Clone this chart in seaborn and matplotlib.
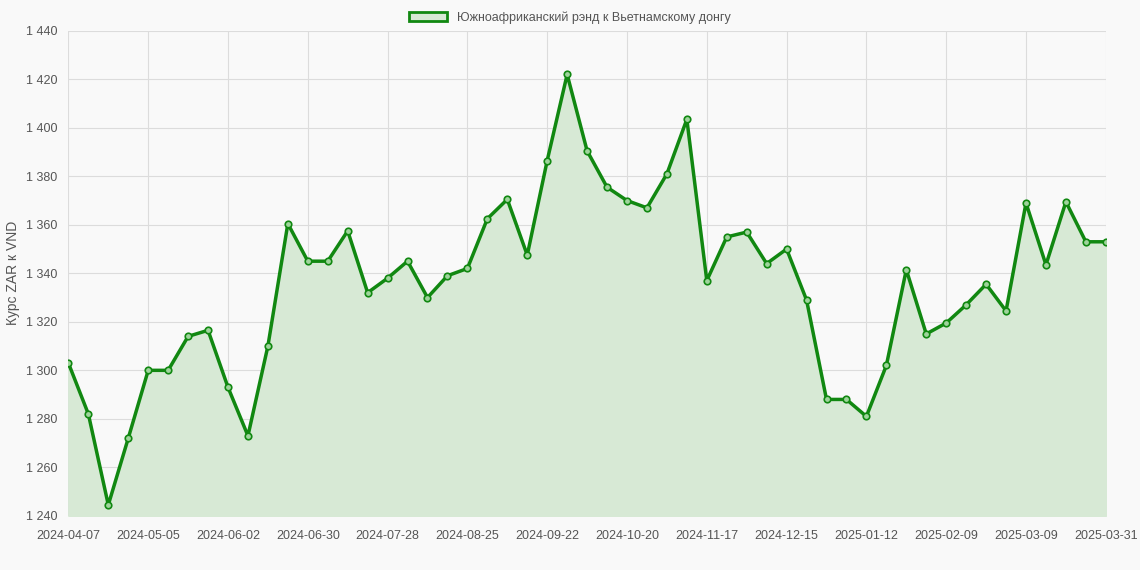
import pandas as pd
import numpy as np
import matplotlib.pyplot as plt
import seaborn as sns
from matplotlib.patches import Patch

# Weekly dates (category axis), last point is 2025-03-31
dates = [d.strftime("%Y-%m-%d") for d in pd.date_range("2024-04-07", periods=52, freq="7D")] + ["2025-03-31"]
rates = [1303, 1282, 1244.5, 1272, 1300, 1300, 1314, 1316.5, 1293, 1273,
         1310, 1360.5, 1345, 1345, 1357.5, 1332, 1338, 1345, 1330, 1339,
         1342, 1362.5, 1370.5, 1347.5, 1386.5, 1422, 1390.5, 1375.5, 1370, 1367,
         1381, 1403.5, 1337, 1355, 1357, 1344, 1350, 1329, 1288, 1288,
         1281, 1302, 1341.5, 1315, 1319.5, 1327, 1335.5, 1324.5, 1369, 1343.5,
         1369.5, 1353, 1353]

df = pd.DataFrame({"date": dates, "rate": rates, "i": range(len(dates))})

sns.set_theme(style="whitegrid")
plt.rcParams['font.family'] = ['Liberation Sans', 'DejaVu Sans']
fig = plt.figure(figsize=(11.4, 5.7), dpi=100, facecolor="#f9f9f9")
ax = fig.add_axes([0.06, 0.095, 0.91, 0.851])
ax.set_facecolor("#f9f9f9")

green = "#118811"
ax.fill_between(df["i"], df["rate"], 1240, color="#d7e9d5", zorder=1)
sns.lineplot(data=df, x="i", y="rate", color=green, linewidth=2.5, ax=ax, zorder=3)
ax.scatter(df["i"], df["rate"], s=22, facecolor="#9fd49c", edgecolor=green, linewidth=1.2, zorder=4)

ax.set_xlim(0, len(dates) - 1)
ax.set_ylim(1240, 1440)
ticks = list(range(0, len(dates) - 1, 4)) + [len(dates) - 1]
ax.set_xticks(ticks)
ax.set_xticklabels([dates[t] for t in ticks], fontsize=9, color="#555555")
yt = np.arange(1240, 1441, 20)
ax.set_yticks(yt)
ax.set_yticklabels([f"{v // 1000} {v % 1000:03d}" for v in yt], fontsize=9, color="#555555")
ax.set_xlabel("")
ax.set_ylabel("Курс ZAR к VND", fontsize=10, color="#555555")
ax.grid(True, color="#dcdcdc", linewidth=0.8)
for s in ax.spines.values():
    s.set_visible(False)
ax.tick_params(axis="x", length=0, pad=10)
ax.tick_params(axis="y", length=0, pad=8)

fig.legend(handles=[Patch(facecolor="#d7e9d5", edgecolor=green, linewidth=2,
                          label="Южноафриканский рэнд к Вьетнамскому донгу")],
           loc="upper center", bbox_to_anchor=(0.5, 1.0), frameon=False, fontsize=9,
           handlelength=3, labelcolor="#555555")

fig.savefig("out.png", facecolor=fig.get_facecolor())
